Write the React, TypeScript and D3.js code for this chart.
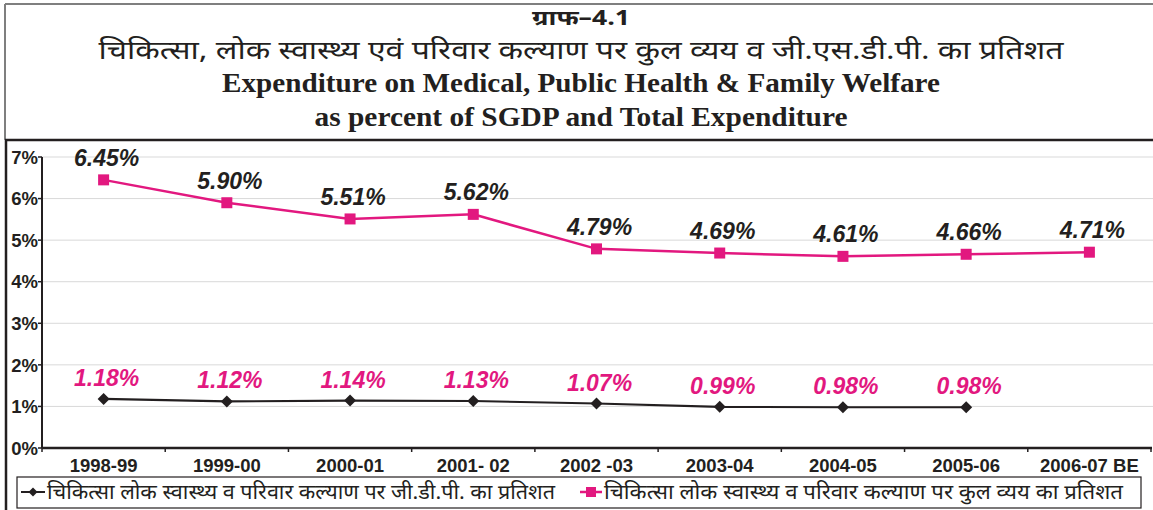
import React from "react";
import * as d3 from "d3";

const categories = ["1998-99", "1999-00", "2000-01", "2001- 02", "2002 -03", "2003-04", "2004-05", "2005-06", "2006-07 BE"];
const totalExpPct = [6.45, 5.90, 5.51, 5.62, 4.79, 4.69, 4.61, 4.66, 4.71];
const gdpPct = [1.18, 1.12, 1.14, 1.13, 1.07, 0.99, 0.98, 0.98];
const yTicks = [0, 1, 2, 3, 4, 5, 6, 7];
const titleLines = [
  "ग्राफ–4.1",
  "चिकित्सा, लोक स्वास्थ्य एवं परिवार कल्याण पर कुल व्यय व जी.एस.डी.पी. का प्रतिशत",
  "Expenditure on Medical, Public Health & Family Welfare",
  "as percent of SGDP and Total Expenditure",
];
const legendLabels = [
  "चिकित्सा लोक स्वास्थ्य व परिवार कल्याण पर जी.डी.पी. का प्रतिशत",
  "चिकित्सा लोक स्वास्थ्य व परिवार कल्याण पर कुल व्यय का प्रतिशत",
];

const W = 1153;
const H = 510;
const PINK = "#E2187F";
const DARK = "#231F20";
const SANS = "'Liberation Sans', Arial, sans-serif";
const DEVA = "'Noto Sans Devanagari', 'Noto Sans', 'Liberation Sans', sans-serif";
const SERIF = "'Liberation Serif', 'Times New Roman', serif";

export default function App() {
  const x = d3.scaleBand<string>().domain(categories).range([42, 1151]);
  const y = d3.scaleLinear().domain([0, 7]).range([448, 157]);
  const cx = (i: number) => (x(categories[i]) as number) + x.bandwidth() / 2;

  const line = d3
    .line<number>()
    .x((_, i) => cx(i))
    .y((d) => y(d));

  const diamond = (r: number) => `M0,${-r}L${r},0L0,${r}L${-r},0Z`;

  return (
    <svg
      width={W}
      height={H}
      style={{ position: "fixed", left: 0, top: 0, background: "#fff" }}
    >
      <rect x={0} y={0} width={W} height={H} fill="#fff" />
      {/* Title frame */}
      <line x1={5} y1={4} x2={W} y2={4} stroke="#7f7f7f" strokeWidth={2} />
      <line x1={5} y1={4} x2={5} y2={140} stroke="#7f7f7f" strokeWidth={2} />
      {/* Chart frame */}
      <line x1={5} y1={140} x2={W} y2={140} stroke={DARK} strokeWidth={2.5} />
      <line x1={6} y1={140} x2={6} y2={H} stroke={DARK} strokeWidth={2.5} />

      {/* Titles */}
      <text x={581} y={25} textAnchor="middle" fontFamily={DEVA} fontWeight="bold" fontSize={21} fill={DARK}
        textLength={98} lengthAdjust="spacingAndGlyphs">{titleLines[0]}</text>
      <text x={581} y={59} textAnchor="middle" fontFamily={DEVA} fontSize={26} fill={DARK}
        textLength={965} lengthAdjust="spacingAndGlyphs">{titleLines[1]}</text>
      <text x={581} y={92} textAnchor="middle" fontFamily={SERIF} fontWeight="bold" fontSize={27} fill={DARK}
        textLength={718} lengthAdjust="spacingAndGlyphs">{titleLines[2]}</text>
      <text x={581} y={126} textAnchor="middle" fontFamily={SERIF} fontWeight="bold" fontSize={27} fill={DARK}
        textLength={533} lengthAdjust="spacingAndGlyphs">{titleLines[3]}</text>

      {/* Gridlines */}
      {yTicks.filter((t) => t > 0).map((t) => (
        <line key={"g" + t} x1={42} x2={W} y1={y(t)} y2={y(t)} stroke="#d9d9d9" strokeWidth={1} />
      ))}

      {/* Y axis */}
      <line x1={42} x2={42} y1={y(7)} y2={y(0)} stroke={DARK} strokeWidth={2} />
      {yTicks.map((t) => (
        <g key={"yt" + t}>
          <line x1={38} x2={42} y1={y(t)} y2={y(t)} stroke={DARK} strokeWidth={1.5} />
          <text x={38} y={y(t)} dy="0.36em" textAnchor="end" fontFamily={SANS} fontWeight="bold" fontSize={18.5} fill={DARK}>
            {t}%
          </text>
        </g>
      ))}

      {/* X axis */}
      <line x1={42} x2={1152} y1={y(0)} y2={y(0)} stroke={DARK} strokeWidth={2.5} />
      {categories.map((c, i) => (
        <g key={"xt" + c}>
          <line x1={(x(c) as number)} x2={(x(c) as number)} y1={y(0)} y2={y(0) + 4} stroke={DARK} strokeWidth={1.5} />
          <text x={cx(i)} y={472} textAnchor="middle" fontFamily={SANS} fontWeight="bold" fontSize={18.5} fill={DARK}>
            {c}
          </text>
        </g>
      ))}
      <line x1={1151} x2={1151} y1={y(0)} y2={y(0) + 4} stroke={DARK} strokeWidth={1.5} />

      {/* Total expenditure series (pink) */}
      <path d={line(totalExpPct) || ""} fill="none" stroke={PINK} strokeWidth={2.5} />
      {totalExpPct.map((v, i) => (
        <g key={"p" + i}>
          <rect x={cx(i) - 5.5} y={y(v) - 5.5} width={11} height={11} fill={PINK} />
          <text x={cx(i) + 3} y={y(v) - 14} textAnchor="middle" fontFamily={SANS} fontWeight="bold" fontStyle="italic"
            fontSize={23} fill={DARK}>{v.toFixed(2)}%</text>
        </g>
      ))}

      {/* GDP series (black) */}
      <path d={line(gdpPct) || ""} fill="none" stroke={DARK} strokeWidth={2.2} />
      {gdpPct.map((v, i) => (
        <g key={"b" + i}>
          <path d={diamond(6)} transform={`translate(${cx(i)},${y(v)})`} fill={DARK} />
          <text x={cx(i) + 3} y={y(v) - 13} textAnchor="middle" fontFamily={SANS} fontWeight="bold" fontStyle="italic"
            fontSize={23} fill={PINK}>{v.toFixed(2)}%</text>
        </g>
      ))}

      {/* Legend */}
      <rect x={17} y={477} width={1124} height={31} fill="#fff" stroke={DARK} strokeWidth={1.2} />
      <line x1={21} x2={45} y1={492} y2={492} stroke={DARK} strokeWidth={2} />
      <path d={diamond(4.5)} transform="translate(33,492)" fill={DARK} />
      <text x={47} y={499} fontFamily={DEVA} fontSize={20} fill={DARK}
        textLength={508} lengthAdjust="spacingAndGlyphs">{legendLabels[0]}</text>
      <line x1={580} x2={602} y1={492} y2={492} stroke={PINK} strokeWidth={2.5} />
      <rect x={586} y={487} width={10} height={10} fill={PINK} />
      <text x={604} y={499} fontFamily={DEVA} fontSize={20} fill={DARK}
        textLength={519} lengthAdjust="spacingAndGlyphs">{legendLabels[1]}</text>
    </svg>
  );
}
